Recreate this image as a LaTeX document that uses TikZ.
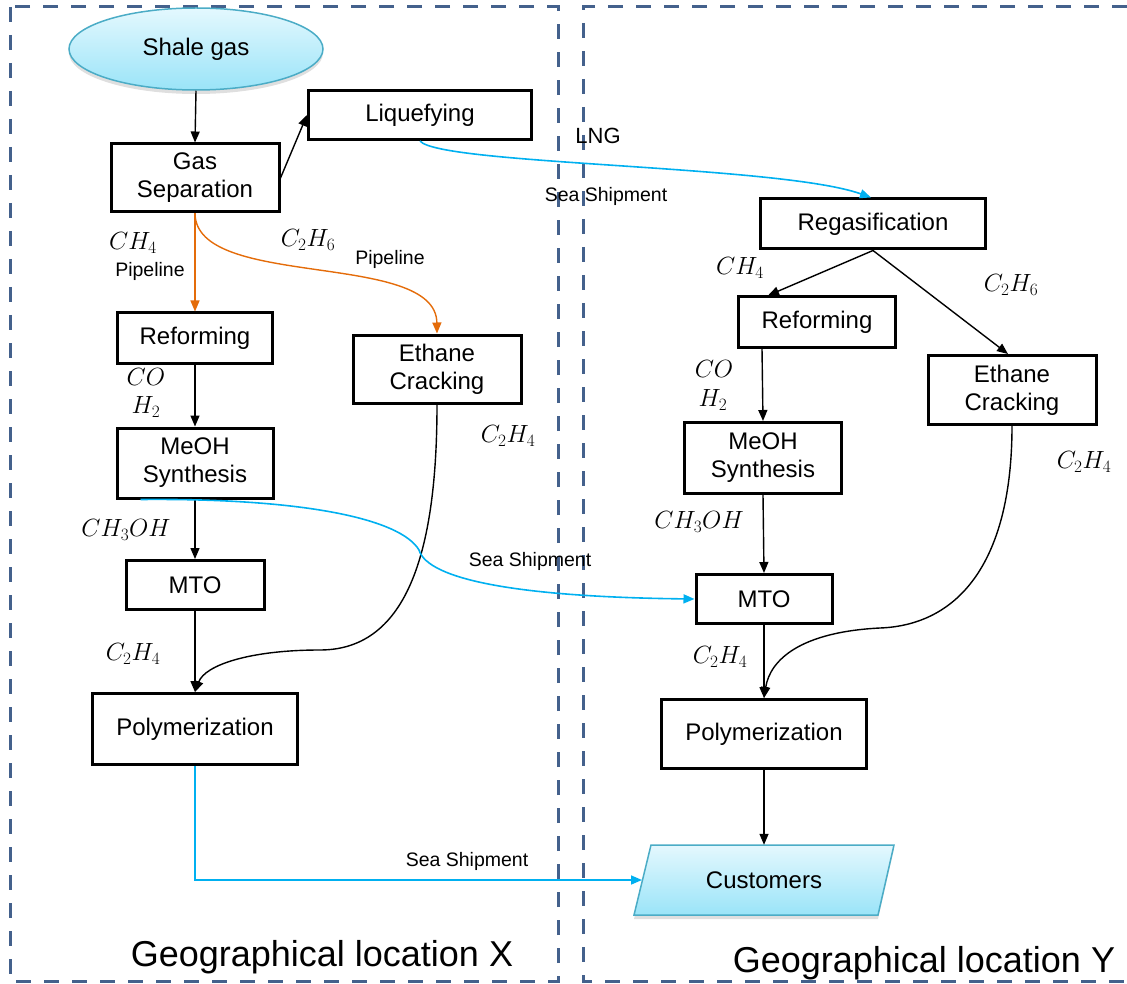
\documentclass[tikz,border=0pt]{standalone}
\usepackage{fontspec}
\setmainfont{Liberation Sans}
\usetikzlibrary{arrows.meta,shapes.geometric,shadows,calc}
\definecolor{dashblue}{HTML}{44618C}
\definecolor{orangeline}{HTML}{E46C0A}
\definecolor{blueline}{HTML}{00B0F0}
\definecolor{cyanborder}{HTML}{4BACC6}
\definecolor{cyantop}{HTML}{E4F8FE}
\definecolor{cyanbot}{HTML}{9AE4F8}
\newcommand\mainsize{\fontsize{24}{28}\selectfont}
\newcommand\smallsize{\fontsize{19.5}{23}\selectfont}
\newcommand\chemsize{\fontsize{24}{28}\selectfont}
\newcommand\geosize{\fontsize{36}{41}\selectfont}
\tikzset{
  frame/.style={draw=dashblue, line width=3pt, dash pattern=on 15pt off 13pt},
  box/.style={draw, line width=3pt, inner sep=0pt, align=center, font=\mainsize},
  terminal/.style={ellipse, draw=cyanborder, line width=1.5pt, top color=cyantop, bottom color=cyanbot,
    inner sep=0pt, font=\mainsize, drop shadow={shadow xshift=0pt, shadow yshift=-4pt, opacity=0.25}},
  chem/.style={font=\chemsize, inner sep=0pt},
  lbl/.style={font=\smallsize, inner sep=0pt},
  arr/.style={-{Triangle[length=11pt,width=9pt]}, line width=1.4pt},
  oarr/.style={arr, draw=orangeline},
  barr/.style={arr, draw=blueline, line width=1.6pt},
}
\begin{document}
\begin{tikzpicture}[x=1pt,y=-1pt]
\useasboundingbox (0,0) rectangle (1127,984);

% location frames
\draw[frame] (10,7) rectangle (558,981);
\draw[frame] (1127,7) -- (583,7) -- (583,981) -- (1127,981);

% ---------- location X ----------
\node[terminal, minimum width=254pt, minimum height=82pt] (shale) at (196,49) {Shale gas};
\node[box, minimum width=223pt, minimum height=49pt] (liq) at (420,115) {Liquefying};
\node[box, minimum width=168pt, minimum height=68pt] (gs) at (195,178) {Gas\\Separation};
\node[box, minimum width=155pt, minimum height=50pt] (ref1) at (195,338) {Reforming};
\node[box, minimum width=168pt, minimum height=68pt] (ec1) at (437,369) {Ethane\\Cracking};
\node[box, minimum width=156pt, minimum height=70pt] (meoh1) at (195,463) {MeOH\\Synthesis};
\node[box, minimum width=138pt, minimum height=49pt] (mto1) at (195,585) {MTO};
\node[box, minimum width=205pt, minimum height=71pt] (poly1) at (195,729) {Polymerization};

% ---------- location Y ----------
\node[box, minimum width=225pt, minimum height=50pt] (regas) at (873,224) {Regasification};
\node[box, minimum width=157pt, minimum height=50pt] (ref2) at (817,322) {Reforming};
\node[box, minimum width=168pt, minimum height=69pt] (ec2) at (1012,390) {Ethane\\Cracking};
\node[box, minimum width=157pt, minimum height=71pt] (meoh2) at (763,458) {MeOH\\Synthesis};
\node[box, minimum width=136pt, minimum height=49pt] (mto2) at (764,599) {MTO};
\node[box, minimum width=205pt, minimum height=69pt] (poly2) at (764,734) {Polymerization};

% customers parallelogram
\path[draw=cyanborder, line width=1.5pt, top color=cyantop, bottom color=cyanbot,
      drop shadow={shadow xshift=0pt, shadow yshift=-4pt, opacity=0.25}]
  (651,845) -- (894,845) -- (878,915) -- (634,915) -- cycle;
\node[font=\mainsize, minimum width=230pt, minimum height=70pt, inner sep=0pt] (cust) at (764,880) {Customers};
\coordinate (custL) at (642,880);

% ---------- connectors X ----------
\draw[arr] (shale.south) -- (gs.north);
\draw[arr] (gs.east) -- (liq.west);
\draw[oarr] (gs.south) -- (ref1.north);
\draw[oarr] (gs.south) .. controls (196,290) and (436,250) .. (ec1.north);
\draw[arr] (ref1.south) -- (meoh1.north);
\draw[arr] (meoh1.south) -- (mto1.north);
\draw[arr] (mto1.south) -- (poly1.north);
\draw[arr] (ec1.south) .. controls (437,545) and (410,650) .. (320,650)
                      .. controls (250,650) and (205,665) .. (poly1.north);

% ---------- connectors Y ----------
\draw[arr] (regas.south) -- ([xshift=31pt]ref2.north west);
\draw[arr] (regas.south) -- ([xshift=-4pt]ec2.north);
\draw[arr] ([xshift=25pt]ref2.south west) -- (meoh2.north);
\draw[arr] (meoh2.south) -- (mto2.north);
\draw[arr] (mto2.south) -- (poly2.north);
\draw[arr] (ec2.south) .. controls (1012,560) and (960,625) .. (880,628)
                      .. controls (800,632) and (770,660) .. (poly2.north);
\draw[arr] (poly2.south) -- (cust.north);

% ---------- shipments ----------
\draw[barr] (liq.south) .. controls (440,165) and (780,165) .. ([xshift=-2pt]regas.north);
\draw[barr] ([xshift=25pt]meoh1.south west) .. controls (300,498) and (400,518) .. (419,550)
            .. controls (428,580) and (520,597) .. (mto2.west);
\draw[barr] (poly1.south) -- (poly1.south |- custL) -- (custL);

% ---------- labels ----------
\node[chem] (l1) at (133,243) {$CH_4$};
\node[lbl] (l2) at (150,271) {Pipeline};
\node[chem] (l3) at (308,240) {$C_2H_6$};
\node[lbl] (l4) at (390,259) {Pipeline};
\node[font=\fontsize{22}{26}\selectfont, inner sep=0pt] (l5) at (598,136) {LNG};
\node[lbl] (l6) at (606,196) {Sea Shipment};
\node[chem] (l7) at (146,377) {$CO$};
\node[chem] (l8) at (146,407) {$H_2$};
\node[chem] (l9) at (126,530) {$CH_3OH$};
\node[chem] (l10) at (133,654) {$C_2H_4$};
\node[chem] (l11) at (508,436) {$C_2H_4$};
\node[lbl] (l12) at (530,561) {Sea Shipment};
\node[lbl] (l13) at (467,861) {Sea Shipment};
\node[chem] (l14) at (740,268) {$CH_4$};
\node[chem] (l15) at (1011,285) {$C_2H_6$};
\node[chem] (l16) at (714,369) {$CO$};
\node[chem] (l17) at (713,400) {$H_2$};
\node[chem] (l18) at (699,522) {$CH_3OH$};
\node[chem] (l19) at (720,657) {$C_2H_4$};
\node[chem] (l20) at (1084,462) {$C_2H_4$};
\node[font=\geosize, inner sep=0pt, anchor=base] (gx) at (322,966) {Geographical location X};
\node[font=\geosize, inner sep=0pt, anchor=base] (gy) at (924,972) {Geographical location Y};
\end{tikzpicture}
\end{document}
